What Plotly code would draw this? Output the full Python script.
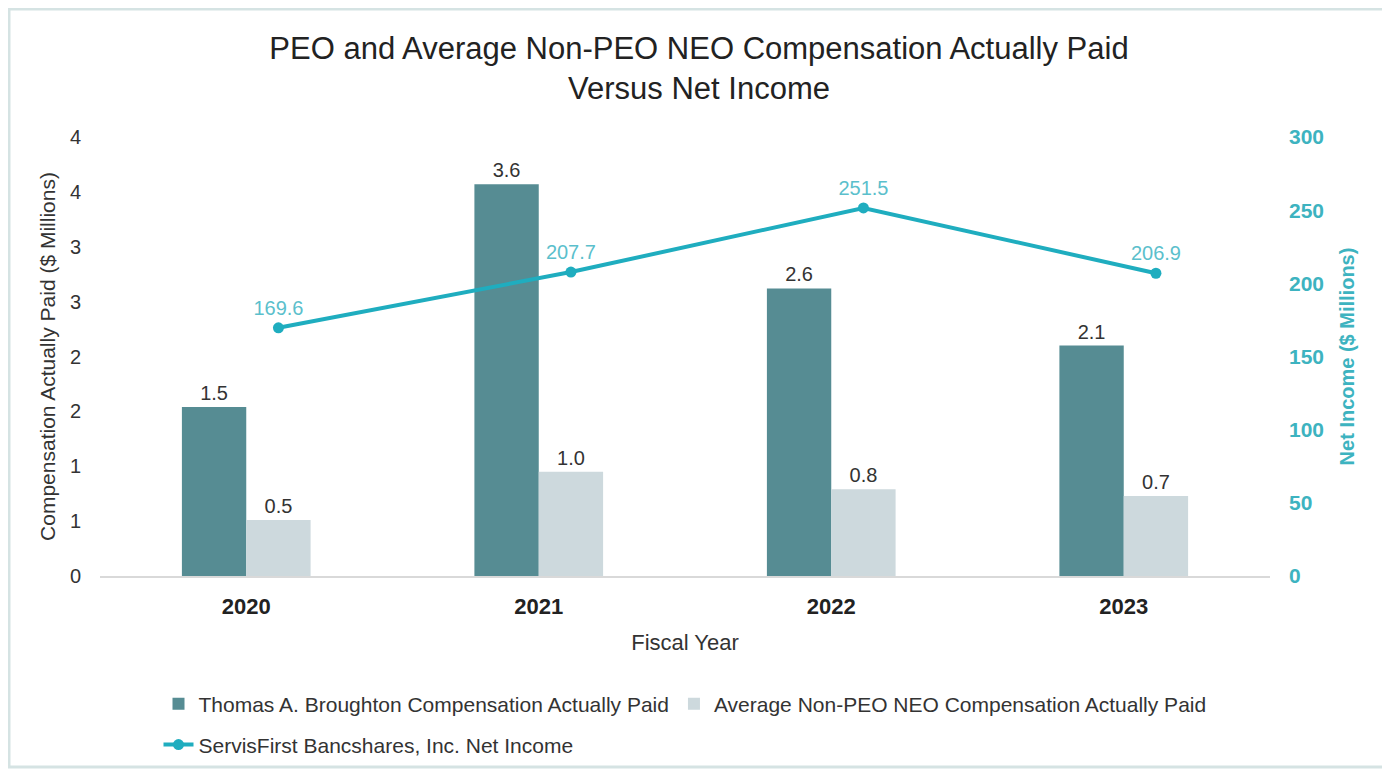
"""PEO and average non-PEO NEO compensation actually paid vs net income."""

import plotly.graph_objects as go

years = ["2020", "2021", "2022", "2023"]
peo_cap = [1.54, 3.57, 2.62, 2.10]
neo_cap = [0.51, 0.95, 0.79, 0.73]
peo_labels = ["1.5", "3.6", "2.6", "2.1"]
neo_labels = ["0.5", "1.0", "0.8", "0.7"]
net_income = [169.6, 207.7, 251.5, 206.9]
left_tickvals = [0, 0.5, 1, 1.5, 2, 2.5, 3, 3.5, 4]
left_ticktext = ["0", "1", "1", "2", "2", "3", "3", "4", "4"]
right_tickvals = [0, 50, 100, 150, 200, 250, 300]

FONT = "Liberation Sans, Arial, sans-serif"
PEO_COLOR = "#568c93"
NEO_COLOR = "#cdd9dd"
LINE_COLOR = "#1fadbf"
TEAL_TEXT = "#3db3c0"

# page body adds an 8px margin, so the figure is a bit smaller than the window
W, H = 1382, 762
L, R, T, B = 92, 120, 129, 194
PW, PH = W - L - R, H - T - B

fig = go.Figure()

fig.add_trace(go.Bar(
    x=years, y=peo_cap, name="Thomas A. Broughton Compensation Actually Paid",
    marker=dict(color=PEO_COLOR, line=dict(width=0)),
    text=peo_labels, textposition="outside", cliponaxis=False,
    textfont=dict(size=20, color="#333333"),
    legend="legend",
))
fig.add_trace(go.Bar(
    x=years, y=neo_cap, name="Average Non-PEO NEO Compensation Actually Paid",
    marker=dict(color=NEO_COLOR, line=dict(width=0)),
    text=neo_labels, textposition="outside", cliponaxis=False,
    textfont=dict(size=20, color="#333333"),
    legend="legend",
))
fig.add_trace(go.Scatter(
    x=years, y=net_income, name="ServisFirst Bancshares, Inc. Net Income",
    mode="lines+markers+text",
    line=dict(color=LINE_COLOR, width=4),
    marker=dict(color=LINE_COLOR, size=11),
    text=[f"{v:.1f}" for v in net_income], textposition="top center",
    textfont=dict(size=20, color="#5bbfcc"),
    xaxis="x2", yaxis="y2", cliponaxis=False,
    legend="legend2",
))

fig.update_layout(
    width=W, height=H,
    paper_bgcolor="white", plot_bgcolor="white",
    font=dict(family=FONT, size=16, color="#333333"),
    margin=dict(l=L, r=R, t=T, b=B, autoexpand=False),
    title=dict(
        text="PEO and Average Non-PEO NEO Compensation Actually Paid<br>Versus Net Income",
        x=0.5, xanchor="center", y=0.933, yanchor="top",
        font=dict(size=31, color="#222222", family=FONT),
    ),
    barmode="group", bargap=0.56, bargroupgap=0,
    xaxis=dict(
        type="category", range=[-0.5, 3.5], automargin=False,
        showgrid=False, zeroline=False,
        showline=True, linecolor="#d9d9d9", linewidth=1.5,
        tickfont=dict(size=22, color="#222222", family="Liberation Sans, Arial", weight="bold"),
        ticklabelstandoff=10,
        title=dict(text="Fiscal Year", font=dict(size=22, color="#333333"), standoff=16),
    ),
    xaxis2=dict(
        type="category", overlaying="x", range=[-0.61, 3.39],
        visible=False,
    ),
    yaxis=dict(
        range=[0, 4], tickvals=left_tickvals, ticktext=left_ticktext, automargin=False,
        showgrid=False, zeroline=False, showline=False,
        tickfont=dict(size=20, color="#333333"),
        ticklabelstandoff=18,
        title=dict(text="Compensation Actually Paid ($ Millions)",
                   font=dict(size=21, color="#333333"), standoff=8),
    ),
    yaxis2=dict(
        overlaying="y", side="right", range=[0, 300], tickvals=right_tickvals,
        automargin=False,
        showgrid=False, zeroline=False, showline=False,
        tickfont=dict(size=21, color=TEAL_TEXT, weight="bold"),
        ticklabelstandoff=18,
        title=dict(text="<b>Net Income ($ Millions)</b>",
                   font=dict(size=20, color=TEAL_TEXT), standoff=16),
    ),
    legend=dict(
        orientation="h", x=0.05, xanchor="left", y=-0.245, yanchor="top",
        font=dict(size=21, color="#333333"), bgcolor="rgba(0,0,0,0)",
    ),
    legend2=dict(
        orientation="h", x=0.05, xanchor="left", y=-0.338, yanchor="top",
        font=dict(size=21, color="#333333"), bgcolor="rgba(0,0,0,0)",
    ),
    showlegend=True,
)

# light frame around the whole picture (page pixel positions, minus the 8px body offset)
fig.add_shape(
    type="rect", xref="paper", yref="paper",
    x0=(9 - 8 - L) / PW, x1=(1386 - 8 - L) / PW,
    y0=(T + PH - (767 - 8)) / PH, y1=(T + PH - (9 - 8)) / PH,
    line=dict(color="#d5e3e3", width=3), fillcolor="rgba(0,0,0,0)", layer="below",
)

fig.write_html("out.html")
